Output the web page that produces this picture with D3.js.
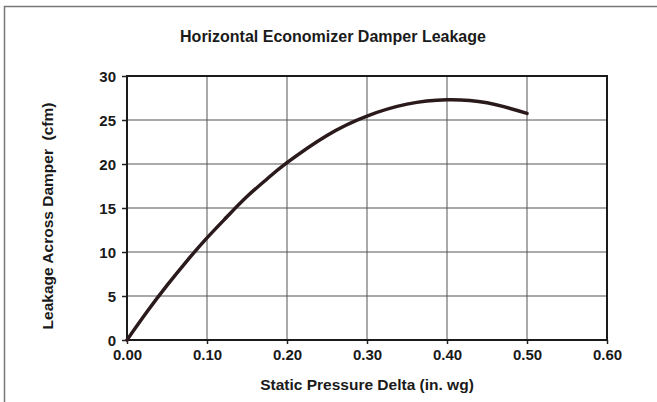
<!DOCTYPE html>
<html lang="en">
<head>
	<meta charset="utf-8">
	<title>Horizontal Economizer Damper Leakage</title>
	<script type="text/javascript" src="https://d3js.org/d3.v7.min.js"></script>
	<style type="text/css">
		body { margin: 0; background: #fff; }
		text { font-family: "Liberation Sans", Arial, sans-serif; font-weight: bold; fill: #1a1a1a; }
	</style>
</head>
<body>
	<script type="text/javascript">

		// curve
		var pressure = [0, 0.025, 0.05, 0.075, 0.10, 0.125, 0.15, 0.175, 0.20, 0.25, 0.30, 0.35, 0.40, 0.45, 0.50];
		var leakage  = [0, 3.2, 6.2, 9.0, 11.6, 14.0, 16.3, 18.3, 20.15, 23.25, 25.45, 26.8, 27.3, 26.95, 25.75];

		var xTicks = [0, 0.1, 0.2, 0.3, 0.4, 0.5, 0.6];
		var yTicks = [0, 5, 10, 15, 20, 25, 30];

		var width = 657, height = 402;
		var margin = {top: 76, right: 50, bottom: 62, left: 127};

		var svg = d3.select("body")
			.append("svg")
			.attr("width", width)
			.attr("height", height);

		// outer frame (top + left edges only visible)
		svg.append("path")
			.attr("d", "M4.5," + height + "V6.5H" + width)
			.attr("fill", "none")
			.attr("stroke", "#777")
			.attr("stroke-width", 1.5);

		var x = d3.scaleLinear().domain([0, 0.6]).range([margin.left, width - margin.right]);
		var y = d3.scaleLinear().domain([0, 30]).range([height - margin.bottom, margin.top]);

		// grid
		svg.append("g")
			.selectAll("line")
			.data(xTicks)
			.enter()
			.append("line")
			.attr("x1", function(d) { return x(d); })
			.attr("x2", function(d) { return x(d); })
			.attr("y1", y(0))
			.attr("y2", y(30))
			.attr("stroke", "#555")
			.attr("stroke-width", 1);

		svg.append("g")
			.selectAll("line")
			.data(yTicks)
			.enter()
			.append("line")
			.attr("x1", x(0))
			.attr("x2", x(0.6))
			.attr("y1", function(d) { return y(d); })
			.attr("y2", function(d) { return y(d); })
			.attr("stroke", "#555")
			.attr("stroke-width", 1);

		// axes
		var xAxis = svg.append("g")
			.attr("transform", "translate(0," + y(0) + ")")
			.call(d3.axisBottom(x).tickValues(xTicks).tickSize(4).tickPadding(5).tickFormat(d3.format(".2f")));

		var yAxis = svg.append("g")
			.attr("transform", "translate(" + x(0) + ",0)")
			.call(d3.axisLeft(y).tickValues(yTicks).tickSize(5).tickPadding(6));

		[xAxis, yAxis].forEach(function(a) {
			a.select(".domain").remove();
			a.selectAll("line").attr("stroke", "#222").attr("stroke-width", 1.5);
			a.selectAll("text").attr("font-size", 15).attr("font-family", null).attr("fill", "#1a1a1a");
		});
		yAxis.selectAll("text").attr("dy", "0.36em");

		// plot frame
		svg.append("rect")
			.attr("x", x(0))
			.attr("y", y(30))
			.attr("width", x(0.6) - x(0))
			.attr("height", y(0) - y(30))
			.attr("fill", "none")
			.attr("stroke", "#1a1a1a")
			.attr("stroke-width", 2);

		// leakage curve
		var line = d3.line()
			.x(function(d, i) { return x(pressure[i]); })
			.y(function(d) { return y(d); })
			.curve(d3.curveNatural);

		svg.append("path")
			.datum(leakage)
			.attr("d", line)
			.attr("fill", "none")
			.attr("stroke", "#2b1a1c")
			.attr("stroke-width", 3.5)
			.attr("stroke-linecap", "round");

		// titles
		svg.append("text")
			.attr("x", 333)
			.attr("y", 42)
			.attr("text-anchor", "middle")
			.attr("font-size", 16)
			.text("Horizontal Economizer Damper Leakage");

		svg.append("text")
			.attr("x", (x(0) + x(0.6)) / 2)
			.attr("y", 390)
			.attr("text-anchor", "middle")
			.attr("font-size", 15.5)
			.text("Static Pressure Delta (in. wg)");

		svg.append("text")
			.attr("transform", "translate(53," + 216 + ") rotate(-90)")
			.attr("text-anchor", "middle")
			.attr("font-size", 15.5)
			.style("white-space", "pre")
			.text("Leakage Across Damper  (cfm)");

	</script>
</body>
</html>
